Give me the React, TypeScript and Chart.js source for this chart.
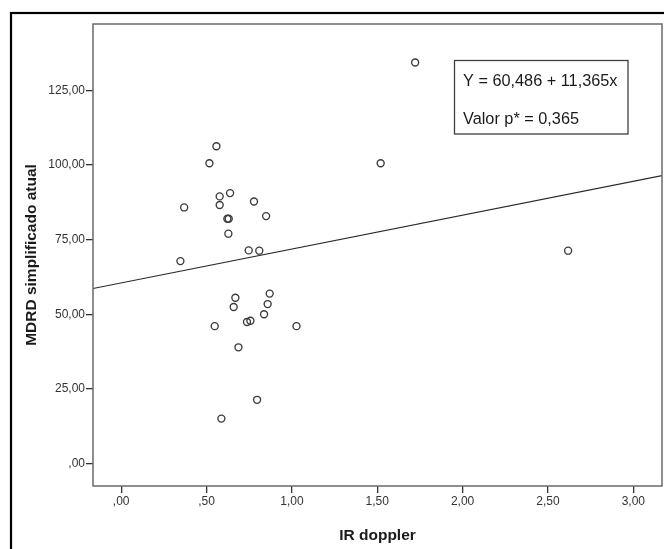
import React, { useEffect, useRef } from "react";
import { Chart, registerables } from "chart.js";

Chart.register(...registerables);

// IR doppler (x) vs MDRD simplificado atual (y)
const irDoppler = [
  0.347, 0.369, 0.517, 0.558, 0.548, 0.577, 0.577, 0.587, 0.622, 0.630,
  0.628, 0.638, 0.659, 0.669, 0.687, 0.737, 0.757, 0.747, 0.778, 0.796,
  0.809, 0.837, 0.849, 0.858, 0.870, 1.027, 1.520, 1.722, 2.618,
];
const mdrd = [
  67.8, 85.8, 100.6, 106.3, 46.0, 89.5, 86.6, 15.0, 82.0, 82.0,
  77.0, 90.6, 52.4, 55.5, 38.9, 47.4, 47.8, 71.4, 87.8, 21.3,
  71.3, 50.0, 82.9, 53.4, 56.9, 46.0, 100.6, 134.4, 71.3,
];

// Fitted line endpoints (Y = 60,486 + 11,365x)
const fitX = [-0.165, 3.168];
const fitY = [58.61, 96.49];

const xTicks = [0, 0.5, 1, 1.5, 2, 2.5, 3];
const yTicks = [0, 25, 50, 75, 100, 125];

const xTitle = "IR doppler";
const yTitle = "MDRD simplificado atual";
const boxLines = ["Y = 60,486 + 11,365x", "Valor p* = 0,365"];

const FONT = '"Liberation Sans", Arial, sans-serif';

function fmt(v: number): string {
  let s = Number(v).toFixed(2).replace(".", ",");
  if (s.startsWith("0,")) s = s.slice(1);
  return s;
}

export default function App() {
  const ref = useRef<HTMLCanvasElement | null>(null);

  useEffect(() => {
    const canvas = ref.current;
    if (!canvas) return;

    const framePlugin = {
      id: "frames",
      beforeDraw(chart: any) {
        const ctx = chart.ctx;
        ctx.save();
        ctx.fillStyle = "#ffffff";
        ctx.fillRect(0, 0, chart.width, chart.height);
        ctx.restore();
      },
      afterDraw(chart: any) {
        const ctx = chart.ctx;
        const a = chart.chartArea;
        ctx.save();
        // outer black frame
        ctx.strokeStyle = "#000000";
        ctx.lineWidth = 2.2;
        ctx.strokeRect(11, 13, 700, 600);
        // plot frame
        ctx.strokeStyle = "#6a6a6a";
        ctx.lineWidth = 1.5;
        ctx.strokeRect(a.left, a.top, a.right - a.left, a.bottom - a.top);
        // equation box
        ctx.strokeStyle = "#404040";
        ctx.lineWidth = 1.3;
        ctx.strokeRect(454.5, 60.5, 173.5, 73.5);
        ctx.fillStyle = "#1a1a1a";
        ctx.font = `16.3px ${FONT}`;
        ctx.textAlign = "left";
        ctx.textBaseline = "alphabetic";
        ctx.fillText(boxLines[0], 463, 86);
        ctx.fillText(boxLines[1], 463, 123.5);
        ctx.restore();
      },
    };

    const chart = new Chart(canvas, {
      type: "scatter",
      data: {
        datasets: [
          {
            type: "line",
            data: fitX.map((x, i) => ({ x, y: fitY[i] })),
            borderColor: "#2a2a2a",
            borderWidth: 1.2,
            pointRadius: 0,
            fill: false,
            order: 2,
          } as any,
          {
            type: "scatter",
            data: irDoppler.map((x, i) => ({ x, y: mdrd[i] })),
            pointStyle: "circle",
            pointRadius: 3.5,
            pointBorderWidth: 1.35,
            borderColor: "#3a3a3a",
            backgroundColor: "rgba(0,0,0,0)",
            order: 1,
          } as any,
        ],
      },
      options: {
        responsive: false,
        animation: false,
        devicePixelRatio: 1,
        layout: {
          autoPadding: false,
          padding: { left: 0, top: 24, right: 2, bottom: 0 },
        },
        plugins: {
          legend: { display: false },
          tooltip: { enabled: false },
        },
        scales: {
          x: {
            type: "linear",
            min: -0.165,
            max: 3.168,
            afterBuildTicks: (s: any) => {
              s.ticks = xTicks.map((v) => ({ value: v }));
            },
            afterFit: (s: any) => {
              s.height = 63;
              s.paddingLeft = 0;
              s.paddingRight = 0;
            },
            grid: {
              drawOnChartArea: false,
              drawTicks: true,
              tickLength: 7,
              color: "#333333",
              lineWidth: 1.3,
            },
            border: { display: false },
            ticks: {
              autoSkip: false,
              maxRotation: 0,
              padding: 1.5,
              color: "#333333",
              font: { family: FONT, size: 12 },
              callback: (v: any) => fmt(Number(v)),
            },
            title: {
              display: true,
              text: xTitle,
              color: "#1a1a1a",
              font: { family: FONT, size: 15.5, weight: "bold" },
              padding: { top: 0, bottom: 4 },
            },
          },
          y: {
            type: "linear",
            min: -7.6,
            max: 147.3,
            afterBuildTicks: (s: any) => {
              s.ticks = yTicks.map((v) => ({ value: v }));
            },
            afterFit: (s: any) => {
              s.width = 93;
              s.paddingTop = 0;
              s.paddingBottom = 0;
            },
            grid: {
              drawOnChartArea: false,
              drawTicks: true,
              tickLength: 7,
              color: "#333333",
              lineWidth: 1.3,
            },
            border: { display: false },
            ticks: {
              autoSkip: false,
              padding: 1,
              color: "#333333",
              font: { family: FONT, size: 12 },
              callback: (v: any) => fmt(Number(v)),
            },
            title: {
              display: true,
              text: yTitle,
              color: "#1a1a1a",
              font: { family: FONT, size: 15.5, weight: "bold" },
              padding: { top: 22.7, bottom: 0 },
            },
          },
        },
      } as any,
      plugins: [framePlugin],
    });

    return () => {
      chart.destroy();
    };
  }, []);

  return (
    <div
      style={{
        position: "fixed",
        left: 0,
        top: 0,
        width: 664,
        height: 549,
        background: "#ffffff",
      }}
    >
      <canvas ref={ref} width={664} height={549} style={{ display: "block" }} />
    </div>
  );
}
